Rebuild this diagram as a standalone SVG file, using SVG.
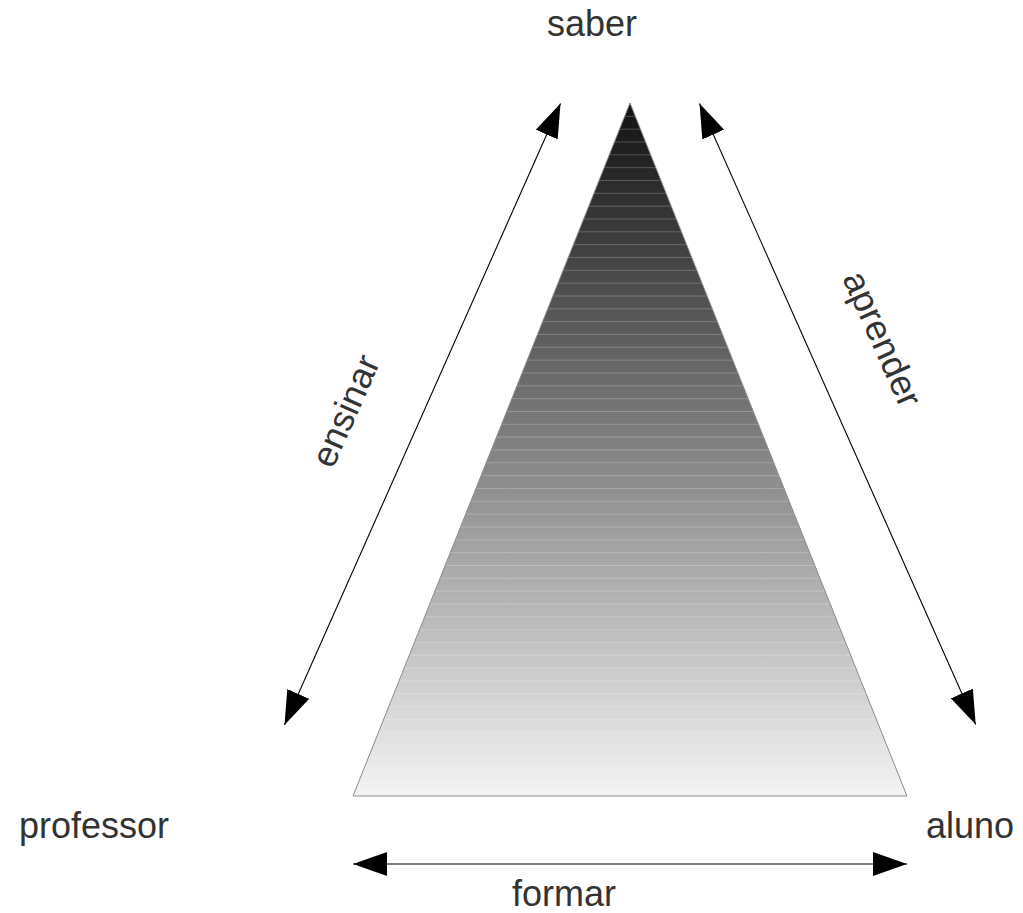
<svg xmlns="http://www.w3.org/2000/svg" width="1023" height="913" viewBox="0 0 1023 913">
  <style>
    .lbl { font-family: "Liberation Sans", Arial, sans-serif; font-size: 36px; fill: #333333; }
    .conn { stroke: #000000; stroke-width: 1.1; fill: none; }
  </style>
  <defs>
    <linearGradient id="tri-grad" gradientUnits="userSpaceOnUse" x1="0" y1="103" x2="0" y2="796">
      <stop offset="0" stop-color="#111111"/>
      <stop offset="1" stop-color="#f4f4f4"/>
    </linearGradient>
    <pattern id="bands" patternUnits="userSpaceOnUse" x="0" y="103" width="20" height="12.833">
      <rect x="0" y="0" width="20" height="1" fill="#ffffff" fill-opacity="0.22"/>
    </pattern>
    <marker id="arr" markerUnits="userSpaceOnUse" viewBox="0 0 34 24" refX="34" refY="12" markerWidth="34" markerHeight="24" orient="auto-start-reverse">
      <path d="M0,0 L34,12 L0,24 Z" fill="#000000"/>
    </marker>
  </defs>

  <g id="triangle">
    <polygon points="630,103 907,796 353,796" fill="url(#tri-grad)"/>
    <polygon points="630,103 907,796 353,796" fill="url(#bands)"/>
    <polygon points="630,103 907,796 353,796" fill="none" stroke="#8c8c8c" stroke-width="1"/>
  </g>

  <g id="connectors">
    <line id="ensinar-arrow" class="conn" x1="284.5" y1="725" x2="560.5" y2="103.5" marker-start="url(#arr)" marker-end="url(#arr)"/>
    <line id="aprender-arrow" class="conn" x1="699.5" y1="103.5" x2="975.7" y2="724.5" marker-start="url(#arr)" marker-end="url(#arr)"/>
    <line id="formar-arrow" class="conn" x1="353" y1="864" x2="907" y2="864" marker-start="url(#arr)" marker-end="url(#arr)"/>
  </g>

  <g id="node-saber"><text class="lbl" x="592" y="36" text-anchor="middle">saber</text></g>
  <g id="node-professor"><text class="lbl" x="19" y="838">professor</text></g>
  <g id="node-aluno"><text class="lbl" x="926" y="838">aluno</text></g>
  <g id="label-formar"><text class="lbl" x="564" y="906" text-anchor="middle">formar</text></g>
  <g id="label-ensinar"><text class="lbl" text-anchor="middle" transform="translate(356.6,415.8) rotate(-66.1)">ensinar</text></g>
  <g id="label-aprender"><text class="lbl" text-anchor="middle" transform="translate(871.4,343.8) rotate(66)">aprender</text></g>
</svg>
